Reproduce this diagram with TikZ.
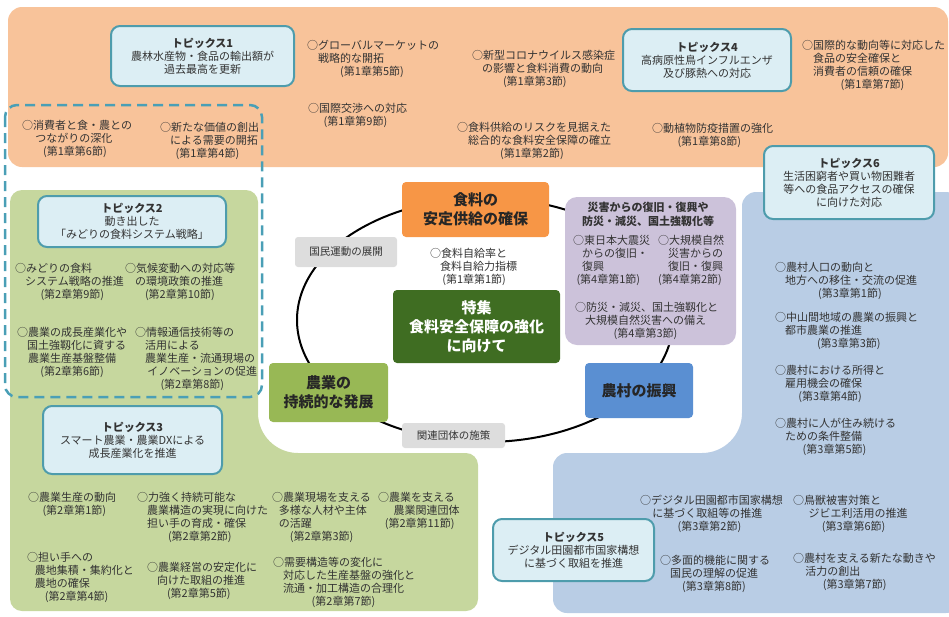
\documentclass[tikz,border=0pt]{standalone}
\usepackage{fontspec}
\setmainfont{Noto Sans CJK JP}
\usepackage{tikz}
\usetikzlibrary{positioning}
\definecolor{orangezone}{HTML}{F8C39A}
\definecolor{greenzone}{HTML}{C6D79E}
\definecolor{bluezone}{HTML}{B9CDE5}
\definecolor{topicfill}{HTML}{DCEEF4}
\definecolor{topicline}{HTML}{4E9CAC}
\definecolor{dashline}{HTML}{4A9FB6}
\definecolor{supplyorange}{HTML}{F79646}
\definecolor{featuregreen}{HTML}{3F6D22}
\definecolor{farmgreen}{HTML}{98B855}
\definecolor{ruralblue}{HTML}{5A8FD2}
\definecolor{lavender}{HTML}{CCC2DA}
\definecolor{taggray}{HTML}{DDDDDD}
\definecolor{inkgray}{HTML}{333333}
\newcommand\pad[1]{\hspace*{#1em}}
\newcommand\itemfont{\fontsize{11}{13}\selectfont}

\begin{document}
\begin{tikzpicture}[x=1pt, y=-1pt,
    item/.style={anchor=north west, align=left, inner sep=0pt, font=\itemfont, text=inkgray},
    topic/.style={draw=topicline, line width=2pt, fill=topicfill, rounded corners=9pt,
        align=center, inner sep=0pt, font=\itemfont, text=inkgray},
    core/.style={rounded corners=4pt, align=center, inner sep=0pt,
        font=\fontsize{15}{19}\selectfont\bfseries, text=black!85},
    tag/.style={fill=taggray, rounded corners=3pt, inner sep=0pt,
        font=\fontsize{10.5}{12}\selectfont, text=inkgray}]
    \useasboundingbox (0,0) rectangle (949,616);

    \fill[orangezone, rounded corners=14pt] (8,7) rectangle (948,167);
    \fill[greenzone, rounded corners=12pt] (10,190) -- (258,190) -- (258,300)
        [rounded corners=40pt] -- (258,453) -- (400,453)
        [rounded corners=12pt] -- (478,453) -- (478,611) -- (10,611) -- cycle;
    \fill[bluezone, rounded corners=14pt] (742,192) -- (960,192) -- (960,613) -- (553,613)
        -- (553,453) -- (650,453)
        [rounded corners=40pt] -- (742,453) -- (742,350)
        [rounded corners=14pt] -- cycle;
    \draw[dashline, line width=2.5pt, dash pattern=on 10pt off 6pt, rounded corners=12pt]
        (5,105) rectangle (262,397);

    \node[topic, minimum width=183, minimum height=60] (topic1) at (202.5,56)
        {{\bfseries トピックス1}\\農林水産物・食品の輸出額が\\過去最高を更新};
    \node[topic, minimum width=168, minimum height=62] (topic4) at (707,60)
        {{\bfseries トピックス4}\\高病原性鳥インフルエンザ\\及び豚熱への対応};
    \node[topic, minimum width=170, minimum height=73] (topic6) at (849,182.5)
        {{\bfseries トピックス6}\\生活困窮者や買い物困難者\\等への食品アクセスの確保\\に向けた対応};
    \node[topic, minimum width=188, minimum height=51] (topic2) at (132,221.5)
        {{\bfseries トピックス2}\\動き出した\\「みどりの食料システム戦略」};
    \node[topic, minimum width=179, minimum height=68] (topic3) at (132.5,440)
        {{\bfseries トピックス3}\\スマート農業・農業DXによる\\成長産業化を推進};
    \node[topic, minimum width=161, minimum height=62] (topic5) at (573.5,550)
        {{\bfseries トピックス5}\\デジタル田園都市国家構想\\に基づく取組を推進};

    \node[item] (market) at (307,40) {○グローバルマーケットの\\\pad{1}戦略的な開拓\\\pad{3}(第1章第5節)};
    \node[item] (trade) at (308,103) {○国際交渉への対応\\\pad{1.4}(第1章第9節)};
    \node[item] (consumer) at (22,120) {○消費者と食・農との\\\pad{1.2}つながりの深化\\\pad{1.9}(第1章第6節)};
    \node[item] (value) at (160,122) {○新たな価値の創出\\\pad{0.9}による需要の開拓\\\pad{1.4}(第1章第4節)};
    \node[item] (corona) at (472,50) {○新型コロナウイルス感染症\\\pad{0.9}の影響と食料消費の動向\\\pad{2.8}(第1章第3節)};
    \node[item] (safety) at (802,40) {○国際的な動向等に対応した\\\pad{1}食品の安全確保と\\\pad{1}消費者の信頼の確保\\\pad{3.5}(第1章第7節)};
    \node[item] (risk) at (457,122) {○食料供給のリスクを見据えた\\\pad{1}総合的な食料安全保障の確立\\\pad{3.9}(第1章第2節)};
    \node[item] (quarantine) at (652,123) {○動植物防疫措置の強化\\\pad{2.3}(第1章第8節)};

    \node[item] (midori) at (15,263) {○みどりの食料\\\pad{0.9}システム戦略の推進\\\pad{2.3}(第2章第9節)};
    \node[item] (climate) at (125,263) {○気候変動への対応等\\\pad{0.9}の環境政策の推進\\\pad{1.8}(第2章第10節)};
    \node[item] (infra) at (17,327) {○農業の成長産業化や\\\pad{0.9}国土強靱化に資する\\\pad{1}農業生産基盤整備\\\pad{2.1}(第2章第6節)};
    \node[item] (ict) at (135,327) {○情報通信技術等の\\\pad{0.9}活用による\\\pad{0.9}農業生産・流通現場の\\\pad{1.1}イノベーションの促進\\\pad{2.3}(第2章第8節)};

    \node[item] (production) at (28,492) {○農業生産の動向\\\pad{1.3}(第2章第1節)};
    \node[item] (bearers) at (137,492) {○力強く持続可能な\\\pad{0.9}農業構造の実現に向けた\\\pad{0.9}担い手の育成・確保\\\pad{2.8}(第2章第2節)};
    \node[item] (diverse) at (272,492) {○農業現場を支える\\\pad{0.6}多様な人材や主体\\\pad{0.6}の活躍\\\pad{1.6}(第2章第3節)};
    \node[item] (groups) at (378,492) {○農業を支える\\\pad{1.4}農業関連団体\\\pad{0.6}(第2章第11節)};
    \node[item] (farmland) at (27,552) {○担い手への\\\pad{0.7}農地集積・集約化と\\\pad{0.7}農地の確保\\\pad{1.6}(第2章第4節)};
    \node[item] (management) at (147,562) {○農業経営の安定化に\\\pad{0.9}向けた取組の推進\\\pad{1.8}(第2章第5節)};
    \node[item] (demand) at (273,557) {○需要構造等の変化に\\\pad{0.9}対応した生産基盤の強化と\\\pad{0.9}流通・加工構造の合理化\\\pad{3.5}(第2章第7節)};

    \node[item] (population) at (775,262) {○農村人口の動向と\\\pad{0.9}地方への移住・交流の促進\\\pad{3.9}(第3章第1節)};
    \node[item] (hilly) at (775,312) {○中山間地域の農業の振興と\\\pad{0.9}都市農業の推進\\\pad{3.8}(第3章第3節)};
    \node[item] (income) at (775,365) {○農村における所得と\\\pad{0.9}雇用機会の確保\\\pad{2.1}(第3章第4節)};
    \node[item] (settle) at (775,418) {○農村に人が住み続ける\\\pad{0.9}ための条件整備\\\pad{2.5}(第3章第5節)};
    \node[item] (digital) at (640,495) {○デジタル田園都市国家構想\\\pad{1.1}に基づく取組等の推進\\\pad{3.4}(第3章第2節)};
    \node[item] (wildlife) at (793,495) {○鳥獣被害対策と\\\pad{1.4}ジビエ利活用の推進\\\pad{2.6}(第3章第6節)};
    \node[item] (multifunc) at (660,555) {○多面的機能に関する\\\pad{0.9}国民の理解の促進\\\pad{2}(第3章第8節)};
    \node[item] (vitality) at (793,553) {○農村を支える新たな動きや\\\pad{1.1}活力の創出\\\pad{2.7}(第3章第7節)};

    \coordinate (ring) at (485,320);
    \draw[line width=2pt] (ring) ellipse [x radius=188, y radius=122];

    \node[rounded corners=12pt, fill=lavender, minimum width=171, minimum height=148] (disaster) at (650.5,271) {};
    \node[align=center, inner sep=0pt, font=\fontsize{11}{14}\selectfont\bfseries, text=inkgray] (disasterhead) at (648,214)
        {災害からの復旧・復興や\\防災・減災、国土強靱化等};
    \node[item] (quake) at (573,235) {○東日本大震災\\\pad{0.8}からの復旧・\\\pad{0.8}復興\\\pad{0.3}(第4章第1節)};
    \node[item] (natural) at (658,235) {○大規模自然\\\pad{0.9}災害からの\\\pad{0.9}復旧・復興\\(第4章第2節)};
    \node[item] (resilience) at (575,302) {○防災・減災、国土強靱化と\\\pad{0.9}大規模自然災害への備え\\\pad{3.5}(第4章第3節)};

    \node[core, fill=supplyorange, minimum width=147, minimum height=55] (supply) at (475.5,209.5) {食料の\\安定供給の確保};
    \node[item] (selfsuff) at (430,248) {○食料自給率と\\\pad{0.9}食料自給力指標\\\pad{1.1}(第1章第1節)};
    \node[core, fill=featuregreen, text=white, minimum width=167, minimum height=73] (feature) at (476.5,326.5) {特集\\食料安全保障の強化\\に向けて};
    \node[core, fill=farmgreen, minimum width=119, minimum height=59] (farming) at (328.5,392.5) {農業の\\持続的な発展};
    \node[core, fill=ruralblue, minimum width=108, minimum height=55] (rural) at (639,390.5) {農村の振興};
    \node[tag, minimum width=102, minimum height=30] (campaign) at (346,252) {国民運動の展開};
    \node[tag, minimum width=103, minimum height=25] (bodies) at (453.5,435.5) {関連団体の施策};
\end{tikzpicture}
\end{document}
